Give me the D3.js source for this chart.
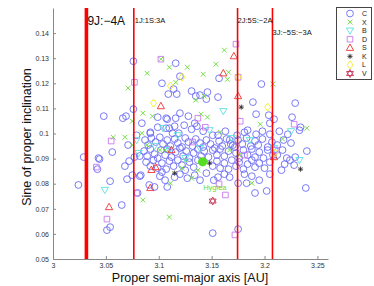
<!DOCTYPE html>
<html>
<head>
<meta charset="utf-8">
<script src="https://cdn.jsdelivr.net/npm/d3@7"></script>
<style>
  body { margin: 0; background: #fff; }
  svg text { font-family: "Liberation Sans", Arial, sans-serif; }
</style>
</head>
<body>
<svg id="chart" width="374" height="286"></svg>
<script>
"use strict"
// taxonomic classes, in legend order
var classes = ["C", "X", "B", "D", "S", "K", "L", "V"];

// [proper a (AU), sine of proper inclination]
var classC = [
  [3.076,0.1288],[3.116,0.1280],[3.103,0.1200],[3.109,0.1157],[3.120,0.1228],[3.048,0.1069],[3.066,0.1061],
  [3.069,0.1069],[3.076,0.1097],[3.099,0.1065],[3.108,0.1057],[3.120,0.1081],[3.115,0.1029],[3.079,0.0993],
  [3.071,0.0954],[3.092,0.1001],[3.157,0.1220],[3.197,0.1197],[3.131,0.1169],[3.135,0.1149],[3.146,0.1165],
  [3.145,0.1137],[3.156,0.1145],[3.189,0.1125],[3.229,0.1121],[3.192,0.1077],[3.204,0.1073],[3.209,0.1057],
  [3.226,0.1065],[3.234,0.1025],[3.114,0.1177],[3.117,0.1157],[3.139,0.1153],[3.128,0.1069],[3.134,0.1041],
  [3.116,0.1061],[3.107,0.1061],[3.205,0.1041],
  [3.056,0.0926],[3.044,0.0898],[3.029,0.0906],[3.042,0.0858],[3.072,0.0890],[3.068,0.0870],[3.077,0.0906],
  [3.082,0.0910],[3.054,0.0810],[3.070,0.0818],[3.024,0.0795],[3.082,0.0830],[3.075,0.0834],[3.083,0.0834],
  [3.051,0.0615],[3.054,0.0627],[3.065,0.0715],[3.043,0.0902],[3.080,0.0763],[3.091,0.0795],[3.096,0.0787],
  [3.108,0.0787],
  [3.151,0.0603],[3.175,0.0619],[3.191,0.0763],[3.202,0.0771],[3.239,0.0783],[3.170,0.0954],
  [3.084,0.1041],[3.092,0.1005],[3.099,0.1025],[3.107,0.1021],[3.110,0.1021],[3.113,0.1001],[3.119,0.1001],
  [3.124,0.1033],[3.131,0.1017],[3.136,0.1029],[3.142,0.1009],[3.151,0.0993],[3.156,0.0993],[3.163,0.1009],
  [3.167,0.0974],[3.174,0.0993],[3.181,0.1005],[3.184,0.1013],[3.192,0.0997],[3.198,0.1009],[3.205,0.0997],
  [3.214,0.1009],[3.222,0.0997],[3.233,0.1013],
  [3.087,0.0974],[3.090,0.0954],[3.093,0.0982],[3.097,0.0966],[3.101,0.0985],[3.104,0.0958],[3.108,0.0974],
  [3.111,0.0950],[3.115,0.0978],[3.118,0.0962],[3.122,0.0946],[3.125,0.0982],[3.128,0.0966],[3.132,0.0950],
  [3.135,0.0978],[3.139,0.0962],[3.142,0.0946],[3.145,0.0974],[3.149,0.0958],[3.153,0.0942],[3.157,0.0970],
  [3.160,0.0950],[3.164,0.0978],[3.168,0.0958],[3.172,0.0946],[3.175,0.0974],[3.179,0.0958],[3.183,0.0982],
  [3.187,0.0950],[3.191,0.0970],[3.194,0.0954],[3.198,0.0978],[3.203,0.0946],[3.207,0.0966],[3.212,0.0954],
  [3.218,0.0974],[3.225,0.0962],
  [3.086,0.0930],[3.089,0.0910],[3.092,0.0938],[3.096,0.0918],[3.099,0.0902],[3.102,0.0934],[3.106,0.0914],
  [3.108,0.0938],[3.112,0.0906],[3.116,0.0926],[3.120,0.0942],[3.123,0.0910],[3.126,0.0930],[3.129,0.0902],
  [3.133,0.0922],[3.137,0.0938],[3.140,0.0910],[3.143,0.0930],[3.147,0.0906],[3.151,0.0934],[3.155,0.0914],
  [3.158,0.0938],[3.162,0.0910],[3.166,0.0930],[3.173,0.0922],[3.176,0.0902],[3.180,0.0934],[3.184,0.0914],
  [3.188,0.0938],[3.191,0.0906],[3.195,0.0926],[3.199,0.0902],[3.203,0.0934],[3.208,0.0914],[3.212,0.0914],
  [3.217,0.0934],[3.221,0.0902],[3.229,0.0906],[3.240,0.0930],
  [3.088,0.0886],[3.092,0.0870],[3.095,0.0894],[3.099,0.0862],[3.103,0.0882],[3.107,0.0858],[3.110,0.0890],
  [3.114,0.0870],[3.118,0.0894],[3.122,0.0874],[3.125,0.0854],[3.129,0.0886],[3.133,0.0866],[3.137,0.0894],
  [3.151,0.0870],[3.155,0.0890],[3.158,0.0862],[3.162,0.0882],[3.166,0.0858],[3.169,0.0894],[3.173,0.0870],
  [3.176,0.0886],[3.180,0.0858],[3.184,0.0878],[3.188,0.0894],[3.191,0.0866],[3.195,0.0882],[3.200,0.0862],
  [3.205,0.0886],[3.216,0.0854],[3.219,0.0878],[3.228,0.0874],[3.224,0.0894],
  [3.101,0.0830],[3.106,0.0814],[3.115,0.0826],[3.120,0.0838],[3.127,0.0822],[3.134,0.0834],[3.139,0.0814],
  [3.156,0.0826],[3.162,0.0838],[3.167,0.0826],[3.175,0.0802],[3.183,0.0802],[3.188,0.0830],[3.195,0.0814],
  [3.103,0.0846],[3.145,0.0842],[3.152,0.0814],[3.181,0.0838],[3.205,0.0838]
];
var classX = [
  [3.075,0.1049],[3.057,0.0985],[3.068,0.0985],[3.085,0.0735],[3.110,0.0667],[3.111,0.0802],[3.089,0.0954],
  [3.085,0.1081],[3.094,0.1069],[3.143,0.1149],[3.140,0.1077],[3.146,0.1065],[3.158,0.1005],[3.084,0.1001],
  [3.122,0.0862],[3.131,0.0822],[3.188,0.0802],[3.196,0.1037],[3.240,0.1021],[3.217,0.0978],[3.110,0.1264],
  [3.127,0.1264],[3.089,0.1240],[3.071,0.1181],[3.116,0.1204],[3.142,0.1236],[3.154,0.1276],[3.162,0.1332],
  [3.166,0.1244],[3.165,0.1216],[3.208,0.1197],[3.135,0.1133],[3.102,0.1296],[3.075,0.0954],[3.101,0.0934],
  [3.167,0.0934],[3.125,0.0894],[3.137,0.0854],[3.176,0.0914],[3.106,0.0934]
];
var classB = [
  [3.049,0.0775],[3.081,0.0922],[3.079,0.0974],[3.161,0.1089],[3.118,0.0993],[3.104,0.1021],[3.148,0.1013],
  [3.225,0.1009],[3.110,0.0934],[3.139,0.0942],[3.186,0.0974],[3.096,0.0950],[3.209,0.0942],[3.169,0.0982],
  [3.233,0.0894],[3.125,0.0902]
];
var classD = [
  [3.041,0.0866],[3.051,0.0659],[3.079,0.0763],[3.055,0.0970],[3.102,0.1296],[3.077,0.1204],[3.173,0.1356],
  [3.175,0.1224],[3.137,0.1061],[3.144,0.1025],[3.177,0.1049],[3.228,0.1037],[3.210,0.0934],[3.157,0.0799],
  [3.163,0.0755],[3.172,0.0596],[3.132,0.0966],[3.181,0.0914]
];
var classS = [
  [3.053,0.0707],[3.092,0.0783],[3.097,0.0866],[3.093,0.0855],[3.112,0.0934],[3.102,0.1109],[3.171,0.1308],
  [3.161,0.1240],[3.175,0.1149],[3.209,0.0906]
];
var classK = [[3.178,0.1105],[3.115,0.0842],[3.148,0.0882],[3.234,0.0858]];
var classL = [[3.095,0.1121],[3.111,0.1189],[3.122,0.1224],[3.175,0.1224],[3.203,0.1105],[3.210,0.0922]];
var classV = [[3.151,0.0731]];
var hygiea = [3.1415, 0.0887];

// mean motion resonances
var resA = [3.0316, 3.0764, 3.1745, 3.2075];
var resLabels = ["9J:\u22124A", "1J:1S:3A", "2J:5S:\u22122A", "3J:\u22125S:\u22123A"];

var xTicks = [3, 3.05, 3.1, 3.15, 3.2, 3.25];
var yTicks = [0.05, 0.06, 0.07, 0.08, 0.09, 0.1, 0.11, 0.12, 0.13, 0.14];

var svg = d3.select("svg#chart");
var x = d3.scaleLinear().domain([3, 3.26]).range([53, 328]);
var y = d3.scaleLinear().domain([0.05, 0.15]).range([259, 8]);

var colors = {C:"#6b6bf5", X:"#66dd33", B:"#5ce0e0", D:"#cc77ee", S:"#ee3333", K:"#222222", L:"#eeee22", V:"#cc3355"};
var sets = {C:classC, X:classX, B:classB, D:classD, S:classS, K:classK, L:classL, V:classV};

// marker shapes as path strings centred on 0,0
function marker(c) {
  switch (c) {
    case "C": return "M3.4,0A3.4,3.4 0 1,1 -3.4,0A3.4,3.4 0 1,1 3.4,0Z";
    case "X": return "M-2.4,-2.4L2.4,2.4M-2.4,2.4L2.4,-2.4";
    case "B": return "M-3.6,-2.6L3.6,-2.6L0,3.6Z";
    case "D": return "M-2.8,-2.8L2.8,-2.8L2.8,2.8L-2.8,2.8Z";
    case "S": return "M0,-3.8L3.6,2.6L-3.6,2.6Z";
    case "K": return "M-2.6,0L2.6,0M0,-2.6L0,2.6M-1.9,-1.9L1.9,1.9M-1.9,1.9L1.9,-1.9";
    case "L": return "M0,-4L3,0L0,4L-3,0Z";
    case "V": return "M0,-4L3.46,2L-3.46,2ZM0,4L3.46,-2L-3.46,-2Z";
  }
}

var plot = svg.append("g").attr("class", "points");
classes.forEach(function(c) {
  plot.append("g")
    .selectAll("path")
      .data(sets[c])
    .enter().append("path")
      .attr("d", marker(c))
      .attr("transform", function(d) { return "translate(" + x(d[0]) + "," + y(d[1]) + ")"; })
      .attr("fill", "none")
      .attr("stroke", colors[c])
      .attr("stroke-width", c == "K" ? 0.8 : 0.9);
});

// Hygiea
svg.append("circle")
    .attr("cx", x(hygiea[0])).attr("cy", y(hygiea[1])).attr("r", 4.6)
    .attr("fill", "#55dd22");
svg.append("text")
    .attr("x", x(hygiea[0]) + 0.5).attr("y", y(hygiea[1]) + 28)
    .attr("font-size", 7.5).attr("fill", "#66dd33")
    .text("Hygiea");

// resonance lines
svg.append("g").selectAll("line")
    .data(resA)
  .enter().append("line")
    .attr("x1", function(d) { return x(d); }).attr("x2", function(d) { return x(d); })
    .attr("y1", 8).attr("y2", 259)
    .attr("stroke", "#ff0000")
    .attr("stroke-width", function(d, i) { return i == 0 ? 3.6 : 1.6; });

var labelPos = [[1, 24.5, 12], [1, 23, 7.5], [0, 23, 7.5], [0, 35, 7.5]];
svg.append("g").selectAll("text")
    .data(resLabels)
  .enter().append("text")
    .attr("x", function(d, i) { return x(resA[i]) + labelPos[i][0]; })
    .attr("y", function(d, i) { return labelPos[i][1]; })
    .attr("font-size", function(d, i) { return labelPos[i][2]; })
    .attr("fill", "#111")
    .text(function(d) { return d; });

// axes, matlab style inward ticks
var xAxis = svg.append("g").attr("transform", "translate(0,259)")
    .call(d3.axisBottom(x).tickValues(xTicks).tickSizeInner(-3).tickSizeOuter(0).tickPadding(4)
      .tickFormat(function(d) { return d == 3 ? "3" : d3.format("")(d); }));
var yAxis = svg.append("g").attr("transform", "translate(53,0)")
    .call(d3.axisLeft(y).tickValues(yTicks).tickSizeInner(-3).tickSizeOuter(0).tickPadding(4)
      .tickFormat(function(d) { return d == 0.1 ? "0.1" : d3.format(".2f")(d); }));
[xAxis, yAxis].forEach(function(a) {
  a.select(".domain").attr("stroke", "#888");
  a.selectAll(".tick line").attr("stroke", "#888");
  a.selectAll(".tick text").attr("font-size", 7).attr("fill", "#333")
    .attr("font-family", "Liberation Sans, Arial, sans-serif");
});

svg.append("text")
    .attr("x", 190).attr("y", 282)
    .attr("text-anchor", "middle").attr("font-size", 12.5).attr("fill", "#111")
    .text("Proper semi-major axis [AU]");
svg.append("text")
    .attr("transform", "translate(31,137) rotate(-90)")
    .attr("text-anchor", "middle").attr("font-size", 12.5).attr("fill", "#111")
    .text("Sine of proper inclination");

// legend
var legend = svg.append("g").attr("class", "legend");
legend.append("rect")
    .attr("x", 336.5).attr("y", 7.5).attr("width", 35).attr("height", 72)
    .attr("fill", "#fff").attr("stroke", "#444").attr("stroke-width", 1);
var ly = d3.scalePoint().domain(classes).range([13.5, 73.5]);
classes.forEach(function(c) {
  legend.append("path")
    .attr("d", marker(c))
    .attr("transform", "translate(350," + ly(c) + ")")
    .attr("fill", "none")
    .attr("stroke", colors[c])
    .attr("stroke-width", c == "K" ? 0.8 : 0.9);
  legend.append("text")
    .attr("x", 362).attr("y", ly(c) + 2.5)
    .attr("font-size", 7).attr("fill", "#222")
    .text(c);
});
</script>
</body>
</html>
